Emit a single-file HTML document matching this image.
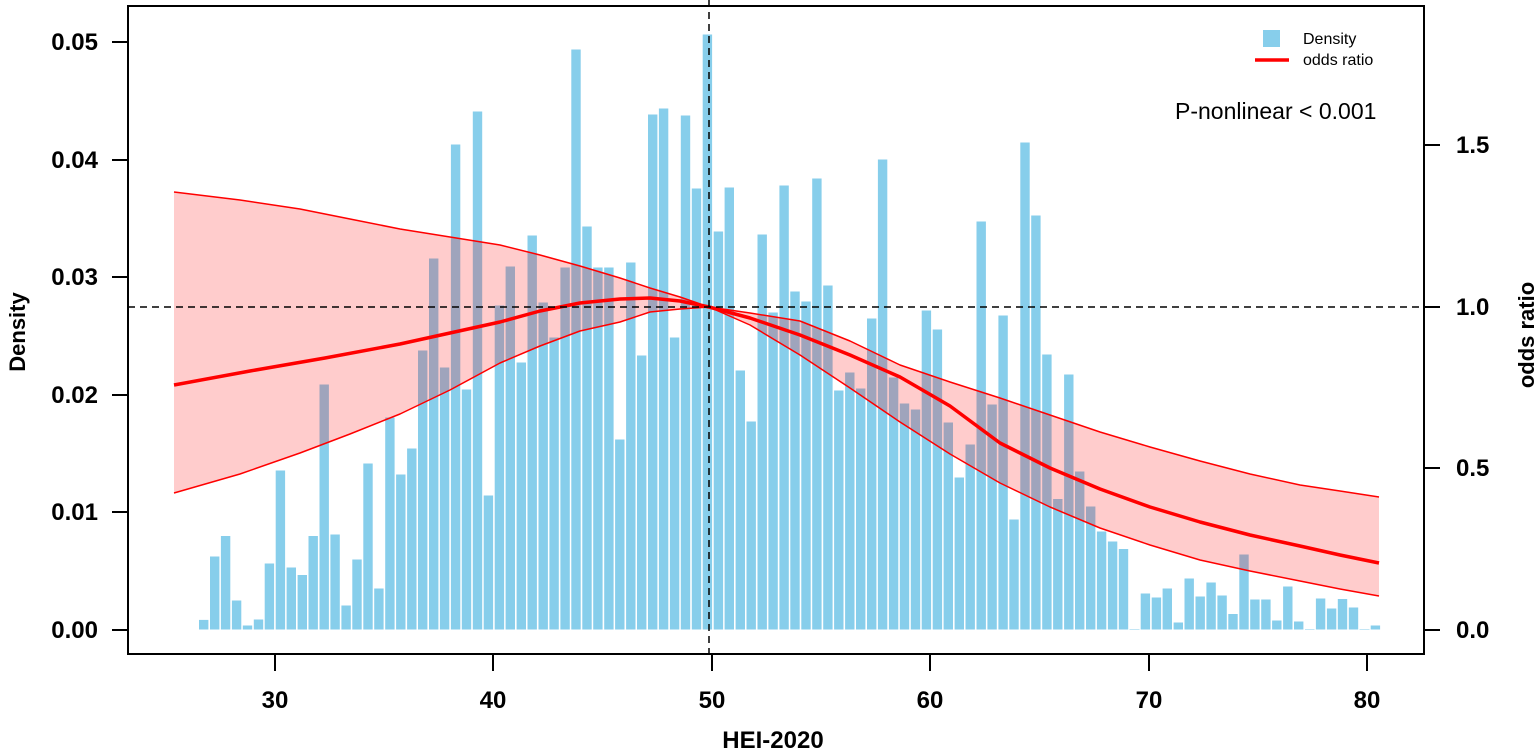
<!DOCTYPE html>
<html><head><meta charset="utf-8"><style>
html,body{margin:0;padding:0;background:#fff;}
svg{display:block;font-family:"Liberation Sans",Arial,sans-serif;}
</style></head><body>
<svg width="1535" height="754" viewBox="0 0 1535 754" xmlns="http://www.w3.org/2000/svg">
<rect width="1535" height="754" fill="#fff"/>
<g fill="#87CEEB" stroke="#fff" stroke-width="1">
<rect x="198.5" y="619.4" width="10.4" height="10.6"/>
<rect x="209.5" y="556" width="10.4" height="74"/>
<rect x="220.4" y="535.5" width="10.4" height="94.5"/>
<rect x="231.4" y="600" width="10.4" height="30"/>
<rect x="242.3" y="625" width="10.4" height="5"/>
<rect x="253.3" y="619" width="10.4" height="11"/>
<rect x="264.2" y="563" width="10.4" height="67"/>
<rect x="275.2" y="470" width="10.4" height="160"/>
<rect x="286.1" y="567" width="10.4" height="63"/>
<rect x="297.1" y="574.5" width="10.4" height="55.5"/>
<rect x="308" y="535.5" width="10.4" height="94.5"/>
<rect x="319" y="384" width="10.4" height="246"/>
<rect x="329.9" y="534" width="10.4" height="96"/>
<rect x="340.9" y="605" width="10.4" height="25"/>
<rect x="351.8" y="559" width="10.4" height="71"/>
<rect x="362.8" y="463" width="10.4" height="167"/>
<rect x="373.7" y="588" width="10.4" height="42"/>
<rect x="384.7" y="417" width="10.4" height="213"/>
<rect x="395.6" y="474" width="10.4" height="156"/>
<rect x="406.6" y="448" width="10.4" height="182"/>
<rect x="417.5" y="350" width="10.4" height="280"/>
<rect x="428.5" y="258" width="10.4" height="372"/>
<rect x="439.4" y="367" width="10.4" height="263"/>
<rect x="450.4" y="144" width="10.4" height="486"/>
<rect x="461.3" y="389" width="10.4" height="241"/>
<rect x="472.3" y="111" width="10.4" height="519"/>
<rect x="483.2" y="495" width="10.4" height="135"/>
<rect x="494.2" y="305" width="10.4" height="325"/>
<rect x="505.1" y="266" width="10.4" height="364"/>
<rect x="516.1" y="362" width="10.4" height="268"/>
<rect x="527" y="235" width="10.4" height="395"/>
<rect x="538" y="302" width="10.4" height="328"/>
<rect x="548.9" y="337" width="10.4" height="293"/>
<rect x="559.9" y="267" width="10.4" height="363"/>
<rect x="570.8" y="49" width="10.4" height="581"/>
<rect x="581.8" y="226" width="10.4" height="404"/>
<rect x="592.7" y="267" width="10.4" height="363"/>
<rect x="603.7" y="267" width="10.4" height="363"/>
<rect x="614.6" y="439" width="10.4" height="191"/>
<rect x="625.6" y="262" width="10.4" height="368"/>
<rect x="636.5" y="355" width="10.4" height="275"/>
<rect x="647.5" y="114" width="10.4" height="516"/>
<rect x="658.4" y="108" width="10.4" height="522"/>
<rect x="669.4" y="337" width="10.4" height="293"/>
<rect x="680.3" y="115" width="10.4" height="515"/>
<rect x="691.3" y="188" width="10.4" height="442"/>
<rect x="702.2" y="34" width="10.4" height="596"/>
<rect x="713.2" y="231" width="10.4" height="399"/>
<rect x="724.1" y="187" width="10.4" height="443"/>
<rect x="735.1" y="370" width="10.4" height="260"/>
<rect x="746" y="421" width="10.4" height="209"/>
<rect x="757" y="234" width="10.4" height="396"/>
<rect x="767.9" y="312" width="10.4" height="318"/>
<rect x="778.9" y="185" width="10.4" height="445"/>
<rect x="789.8" y="291" width="10.4" height="339"/>
<rect x="800.8" y="301" width="10.4" height="329"/>
<rect x="811.7" y="178" width="10.4" height="452"/>
<rect x="822.7" y="285" width="10.4" height="345"/>
<rect x="833.6" y="390" width="10.4" height="240"/>
<rect x="844.6" y="372" width="10.4" height="258"/>
<rect x="855.5" y="388" width="10.4" height="242"/>
<rect x="866.5" y="318" width="10.4" height="312"/>
<rect x="877.4" y="159" width="10.4" height="471"/>
<rect x="888.4" y="377" width="10.4" height="253"/>
<rect x="899.3" y="403" width="10.4" height="227"/>
<rect x="910.3" y="409" width="10.4" height="221"/>
<rect x="921.2" y="310" width="10.4" height="320"/>
<rect x="932.2" y="329" width="10.4" height="301"/>
<rect x="943.1" y="422" width="10.4" height="208"/>
<rect x="954.1" y="477" width="10.4" height="153"/>
<rect x="965" y="444" width="10.4" height="186"/>
<rect x="976" y="221" width="10.4" height="409"/>
<rect x="986.9" y="404" width="10.4" height="226"/>
<rect x="997.9" y="315" width="10.4" height="315"/>
<rect x="1008.8" y="519" width="10.4" height="111"/>
<rect x="1019.8" y="142" width="10.4" height="488"/>
<rect x="1030.7" y="215" width="10.4" height="415"/>
<rect x="1041.7" y="354" width="10.4" height="276"/>
<rect x="1052.6" y="498.5" width="10.4" height="131.5"/>
<rect x="1063.6" y="374" width="10.4" height="256"/>
<rect x="1074.5" y="471" width="10.4" height="159"/>
<rect x="1085.5" y="506" width="10.4" height="124"/>
<rect x="1096.4" y="531" width="10.4" height="99"/>
<rect x="1107.4" y="541" width="10.4" height="89"/>
<rect x="1118.3" y="548.5" width="10.4" height="81.5"/>
<rect x="1129.3" y="628.5" width="10.4" height="1.5"/>
<rect x="1140.2" y="593" width="10.4" height="37"/>
<rect x="1151.2" y="597" width="10.4" height="33"/>
<rect x="1162.1" y="588" width="10.4" height="42"/>
<rect x="1173.1" y="622" width="10.4" height="8"/>
<rect x="1184" y="578" width="10.4" height="52"/>
<rect x="1195" y="596" width="10.4" height="34"/>
<rect x="1205.9" y="582" width="10.4" height="48"/>
<rect x="1216.9" y="595" width="10.4" height="35"/>
<rect x="1227.8" y="613.5" width="10.4" height="16.5"/>
<rect x="1238.8" y="554" width="10.4" height="76"/>
<rect x="1249.7" y="599" width="10.4" height="31"/>
<rect x="1260.7" y="599" width="10.4" height="31"/>
<rect x="1271.6" y="620" width="10.4" height="10"/>
<rect x="1282.6" y="586" width="10.4" height="44"/>
<rect x="1293.5" y="621" width="10.4" height="9"/>
<rect x="1304.5" y="628.5" width="10.4" height="1.5"/>
<rect x="1315.4" y="598" width="10.4" height="32"/>
<rect x="1326.4" y="608" width="10.4" height="22"/>
<rect x="1337.3" y="598.5" width="10.4" height="31.5"/>
<rect x="1348.3" y="607" width="10.4" height="23"/>
<rect x="1359.2" y="628.5" width="10.4" height="1.5"/>
<rect x="1370.2" y="625" width="10.4" height="5"/>
</g>
<polygon fill="rgba(255,0,0,0.2)" stroke="none" points="174,192 240,200 300,209 350,219 400,229 450,237 500,245 540,255 580,266 620,278 650,288 680,297 709,307 750,313 800,321 850,341 900,365 950,382 1000,398 1050,415 1100,432 1150,447 1200,461 1250,474 1300,485 1340,491 1379,497 1379,596 1340,589 1300,581 1250,571 1200,560 1150,545 1100,528 1050,507 1000,483 950,454 900,422 850,388 800,355 750,325 709,307 680,309 650,312 620,322 580,331 540,346 500,363 450,390 400,414 350,434 300,453 240,474 174,493"/>
<polyline fill="none" stroke="#f00" stroke-width="1.5" stroke-linejoin="round" points="174,192 240,200 300,209 350,219 400,229 450,237 500,245 540,255 580,266 620,278 650,288 680,297 709,307 750,313 800,321 850,341 900,365 950,382 1000,398 1050,415 1100,432 1150,447 1200,461 1250,474 1300,485 1340,491 1379,497"/>
<polyline fill="none" stroke="#f00" stroke-width="1.5" stroke-linejoin="round" points="174,493 240,474 300,453 350,434 400,414 450,390 500,363 540,346 580,331 620,322 650,312 680,309 709,307 750,325 800,355 850,388 900,422 950,454 1000,483 1050,507 1100,528 1150,545 1200,560 1250,571 1300,581 1340,589 1379,596"/>
<polyline fill="none" stroke="#f00" stroke-width="3.5" stroke-linejoin="round" points="174,385 250,371 325,358 400,344 450,333 500,322 540,311 580,303 620,299 650,298 680,301 709,307 750,318 800,335 850,355 900,377 950,406 1000,443 1050,468 1100,489 1150,507 1200,522 1250,535 1300,546 1340,555 1379,563"/>
<line x1="128" y1="307" x2="1424" y2="307" stroke="#000" stroke-width="1.5" stroke-dasharray="7,5"/>
<line x1="709" y1="0" x2="709" y2="654" stroke="#000" stroke-width="1.5" stroke-dasharray="7,5"/>
<rect x="128" y="6" width="1296" height="648" fill="none" stroke="#000" stroke-width="2"/>
<g stroke="#000" stroke-width="2">
<line x1="112" y1="42" x2="128" y2="42"/><line x1="112" y1="160" x2="128" y2="160"/><line x1="112" y1="277" x2="128" y2="277"/><line x1="112" y1="395" x2="128" y2="395"/><line x1="112" y1="512" x2="128" y2="512"/><line x1="112" y1="630" x2="128" y2="630"/>
<line x1="1424" y1="630" x2="1440" y2="630"/><line x1="1424" y1="468" x2="1440" y2="468"/><line x1="1424" y1="307" x2="1440" y2="307"/><line x1="1424" y1="145" x2="1440" y2="145"/>
<line x1="275" y1="654" x2="275" y2="671"/><line x1="493" y1="654" x2="493" y2="671"/><line x1="712" y1="654" x2="712" y2="671"/><line x1="930" y1="654" x2="930" y2="671"/><line x1="1149" y1="654" x2="1149" y2="671"/><line x1="1367" y1="654" x2="1367" y2="671"/>
</g>
<g font-size="24" font-weight="bold" text-anchor="end" fill="#000">
<text x="98" y="50">0.05</text><text x="98" y="168">0.04</text><text x="98" y="285">0.03</text><text x="98" y="403">0.02</text><text x="98" y="520">0.01</text><text x="98" y="638">0.00</text>
</g>
<g font-size="24" font-weight="bold" text-anchor="start" fill="#000">
<text x="1456" y="638">0.0</text><text x="1456" y="476">0.5</text><text x="1456" y="315">1.0</text><text x="1456" y="153">1.5</text>
</g>
<g font-size="24" font-weight="bold" text-anchor="middle" fill="#000">
<text x="275" y="708">30</text><text x="493" y="708">40</text><text x="712" y="708">50</text><text x="930" y="708">60</text><text x="1149" y="708">70</text><text x="1367" y="708">80</text>
</g>
<text x="773" y="748" font-size="24" font-weight="bold" text-anchor="middle">HEI-2020</text>
<text transform="translate(25,332) rotate(-90)" font-size="22" font-weight="bold" text-anchor="middle">Density</text>
<text transform="translate(1534,335) rotate(-90)" font-size="22" font-weight="bold" text-anchor="middle">odds ratio</text>
<rect x="1263" y="30" width="17" height="17" fill="#87CEEB"/>
<text x="1303" y="44" font-size="16">Density</text>
<line x1="1255" y1="60" x2="1289" y2="60" stroke="#f00" stroke-width="3.5"/>
<text x="1303" y="65" font-size="16">odds ratio</text>
<text x="1175" y="119" font-size="23">P-nonlinear &lt; 0.001</text>
</svg>
</body></html>
